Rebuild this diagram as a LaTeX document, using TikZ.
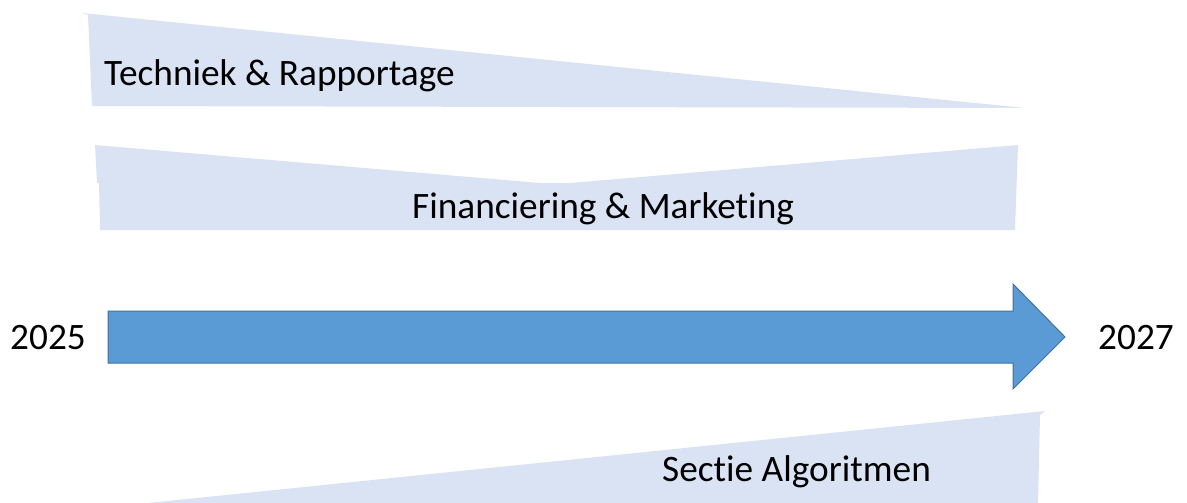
\documentclass[tikz,border=0pt]{standalone}
\usepackage{fontspec}
\setmainfont[Ligatures=NoCommon]{Carlito}
\definecolor{bandfill}{HTML}{DAE3F3}
\definecolor{arrowfill}{HTML}{5B9BD5}
\definecolor{arrowline}{HTML}{41719C}
\tikzset{
	band/.style={fill=bandfill, draw=none},
	label/.style={inner sep=0pt, anchor=base west, font=\fontsize{37.3}{40}\selectfont}
}
\begin{document}
\begin{tikzpicture}[x=1pt, y=-1pt]
	\useasboundingbox (0,0) rectangle (1187,503);
	% bands
	\fill[band] (82,13) -- (1025,108) -- (92,106) -- (88,15) -- cycle;
	\fill[band] (95,145) -- (540,183) -- (570,183) -- (1018,145) -- (1015,230) -- (100,230) -- (99,183) -- (97,183) -- cycle;
	\fill[band] (148,503) -- (1045,411) -- (1040,415) -- (1038,503) -- cycle;
	% timeline arrow
	\draw[fill=arrowfill, draw=arrowline, line width=1pt]
		(108,311) -- (1013,311) -- (1013,284) -- (1065,337) -- (1013,389) -- (1013,363) -- (108,363) -- cycle;
	% labels
	\node[label](techniek) at (104,86) {Techniek \& Rapportage};
	\node[label](financiering) at (412,218) {Financiering \& Marketing};
	\node[label](start) at (10,349) {2025};
	\node[label](end) at (1098,349) {2027};
	\node[label](sectie) at (662,481) {Sectie Algoritmen};
\end{tikzpicture}
\end{document}
